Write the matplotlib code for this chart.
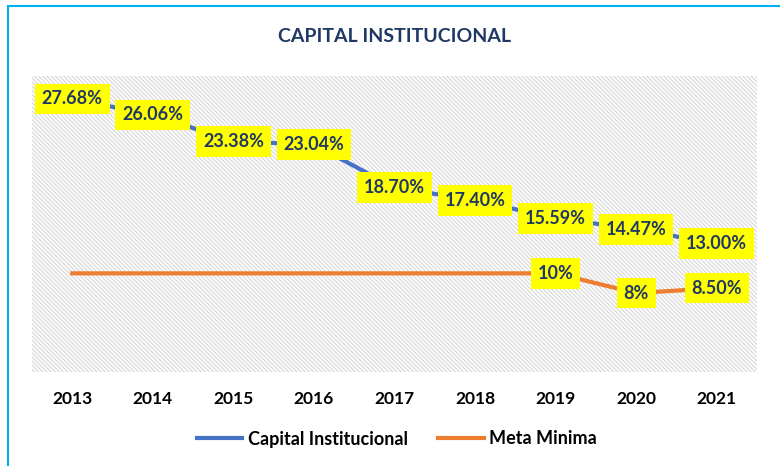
import numpy as np
import matplotlib
matplotlib.use('Agg')
import matplotlib.pyplot as plt
from matplotlib.patches import Rectangle

#data
years = ['2013', '2014', '2015', '2016', '2017', '2018', '2019', '2020', '2021']
capital = [27.68, 26.06, 23.38, 23.04, 18.70, 17.40, 15.59, 14.47, 13.00]
meta = [10, 10, 10, 10, 10, 10, 10, 8, 8.5]
capital_labels = ['27.68%', '26.06%', '23.38%', '23.04%', '18.70%', '17.40%', '15.59%', '14.47%', '13.00%']
meta_labels = ['', '', '', '', '', '', '10%', '8%', '8.50%']

#colors
blue = '#4472C4'
orange = '#ED7D31'
navy = '#1F3864'
yellow = '#FFFF00'

plt.rcParams['font.family'] = ['Lato', 'DejaVu Sans']
plt.rcParams['hatch.color'] = '#dadada'
plt.rcParams['hatch.linewidth'] = 0.9

fig = plt.figure(figsize=(7.8, 4.66), dpi=100)
ax = fig.add_axes([32/780, 1-372/466, 725/780, 296/466])

#hatched plot background
ax.add_patch(Rectangle((0, 0), 1, 1, transform=ax.transAxes, facecolor='white',
                       edgecolor='#dadada', linewidth=0, hatch='\\' * 8, zorder=0))

x = np.arange(len(years))
ax.plot(x, capital, color=blue, lw=3, label='Capital Institucional', zorder=2)
ax.plot(x, meta, color=orange, lw=3, label='Meta Minima', zorder=2)

box = dict(boxstyle='square,pad=0.38', fc=yellow, ec='none')
for i in range(len(years)):
    ax.text(x[i], capital[i], capital_labels[i], ha='center', va='center', fontsize=13,
            fontweight='bold', color=navy, bbox=box, zorder=3)
    if meta_labels[i]:
        ax.text(x[i], meta[i], meta_labels[i], ha='center', va='center', fontsize=13,
                fontweight='bold', color=navy, bbox=box, zorder=3)

ax.set_xlim(-0.5, len(years) - 0.5)
ax.set_ylim(0, 30)
ax.set_xticks(x)
ax.set_xticklabels(years, fontsize=12.5, fontweight='bold', color='black')
ax.tick_params(axis='x', length=0, pad=14)
ax.set_yticks([])
for s in ax.spines.values():
    s.set_visible(False)

fig.text(395/780, 1-37/466, 'CAPITAL INSTITUCIONAL', ha='center', va='center',
         fontsize=14, fontweight='bold', color=navy)

fig.legend(loc='center', bbox_to_anchor=(397/780, 1-439/466), ncol=2, frameon=False,
           prop={'size': 13, 'weight': 'bold'}, handlelength=2.5, handletextpad=0.3,
           columnspacing=1.7)

#cyan frame around the chart
fig.add_artist(Rectangle((8/780, -0.1), 1.2, 1-6/466+0.1, transform=fig.transFigure,
                         fill=False, edgecolor='#00B0F0', linewidth=1.5))

fig.savefig('out.png', dpi=100)
